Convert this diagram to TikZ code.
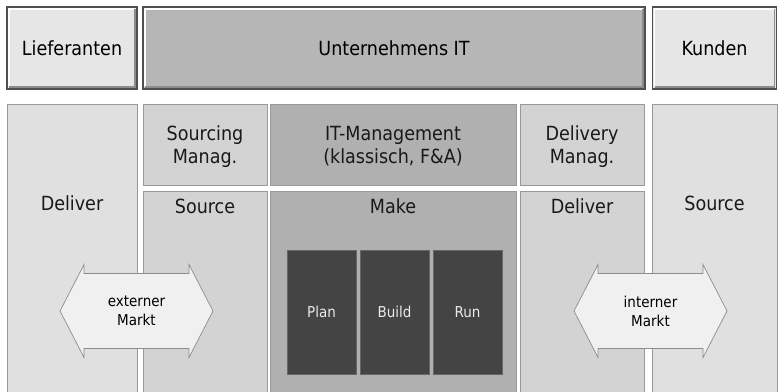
\documentclass[tikz,border=0pt]{standalone}
\usepackage{fontspec}
\setmainfont{DejaVu Sans Condensed}
\usetikzlibrary{positioning}

\definecolor{frame}{HTML}{505050}
\definecolor{light}{HTML}{E6E6E6}
\definecolor{mid}{HTML}{B6B6B6}
\definecolor{colA}{HTML}{E0E0E0}
\definecolor{colB}{HTML}{D3D3D3}
\definecolor{colC}{HTML}{B0B0B0}
\definecolor{dark}{HTML}{444444}

\tikzset{
  topbox/.style={
    draw = frame,
    line width = 1.4pt,
    inner sep = 0pt,
    font = \fontsize{19.5}{23}\selectfont,
    path picture = {
      \draw[white, line width=1.5pt]
        ([shift={(2pt,2pt)}]path picture bounding box.south west) |-
        ([shift={(-2pt,-2pt)}]path picture bounding box.north east);
      \draw[black!45, line width=1.5pt]
        ([shift={(2pt,2pt)}]path picture bounding box.south west) -|
        ([shift={(-2pt,-2pt)}]path picture bounding box.north east);
    }
  },
  colbox/.style={
    draw = black!40,
    line width = 0.8pt,
    inner sep = 0pt
  },
  lbl/.style={
    font = \fontsize{19.5}{23}\selectfont,
    align = center,
    text = black!90
  },
  small/.style={
    font = \fontsize{15}{19}\selectfont,
    align = center
  },
  task/.style={
    fill = dark,
    draw = black!60,
    inner sep = 0pt,
    minimum width = 69pt,
    minimum height = 124pt,
    text = white!92!black,
    font = \fontsize{15}{18}\selectfont
  },
  markt/.style={
    fill = black!6,
    draw = black!45,
    line width = 0.7pt
  }
}

\begin{document}
\begin{tikzpicture}[x=1pt,y=-1pt]
\useasboundingbox[fill=white] (0,0) rectangle (778,391);

% top row
\node[topbox, fill=light, minimum width=130pt, minimum height=82pt] (lief) at (72,48) {Lieferanten};
\node[topbox, fill=mid, minimum width=502pt, minimum height=82pt] (uit) at (394,48) {Unternehmens IT};
\node[topbox, fill=light, minimum width=124pt, minimum height=82pt] (kunden) at (714.5,48) {Kunden};

% columns
\node[colbox, fill=colA, minimum width=130pt, minimum height=291pt] (delL) at (72,249.5) {};
\node[colbox, fill=colB, minimum width=124pt, minimum height=81pt] (srcM) at (205,144.5) {};
\node[colbox, fill=colB, minimum width=124pt, minimum height=204pt] (srcL) at (205,293) {};
\node[colbox, fill=colC, minimum width=246pt, minimum height=81pt] (itm) at (393,144.5) {};
\node[colbox, fill=colC, minimum width=246pt, minimum height=204pt] (make) at (393,293) {};
\node[colbox, fill=colB, minimum width=124pt, minimum height=81pt] (delM) at (582,144.5) {};
\node[colbox, fill=colB, minimum width=124pt, minimum height=204pt] (delR) at (582,293) {};
\node[colbox, fill=colA, minimum width=125pt, minimum height=291pt] (srcR) at (714.5,249.5) {};

\node[lbl] (tdelL) at (72,203) {Deliver};
\node[lbl] (tsrcM) at (205,147) {Sourcing\\Manag.};
\node[lbl] (tsrcL) at (205,206) {Source};
\node[lbl] (titm) at (393,146.5) {IT-Management\\(klassisch, F\&A)};
\node[lbl] (tmake) at (393,206) {Make};
\node[lbl] (tdelM) at (582,147) {Delivery\\Manag.};
\node[lbl] (tdelR) at (582,206) {Deliver};
\node[lbl] (tsrcR) at (714.5,203) {Source};

% plan / build / run
\foreach \t [count=\i from 0] in {Plan,Build,Run}
  \node[task] (task\i) at (321.5+73*\i,312) {\t};

% markets
\foreach \cx/\name/\txt in {136.5/ext/externer, 650.5/int/interner}{
  \draw[markt] (\cx-76.5,311) -- (\cx-52.5,264.5) -- (\cx-52.5,273.5)
    -- (\cx+52.5,273.5) -- (\cx+52.5,264.5) -- (\cx+76.5,311)
    -- (\cx+52.5,357.5) -- (\cx+52.5,348.5) -- (\cx-52.5,348.5)
    -- (\cx-52.5,357.5) -- cycle;
  \node[small] (\name) at (\cx,311) {\txt\\Markt};
}
\end{tikzpicture}
\end{document}
